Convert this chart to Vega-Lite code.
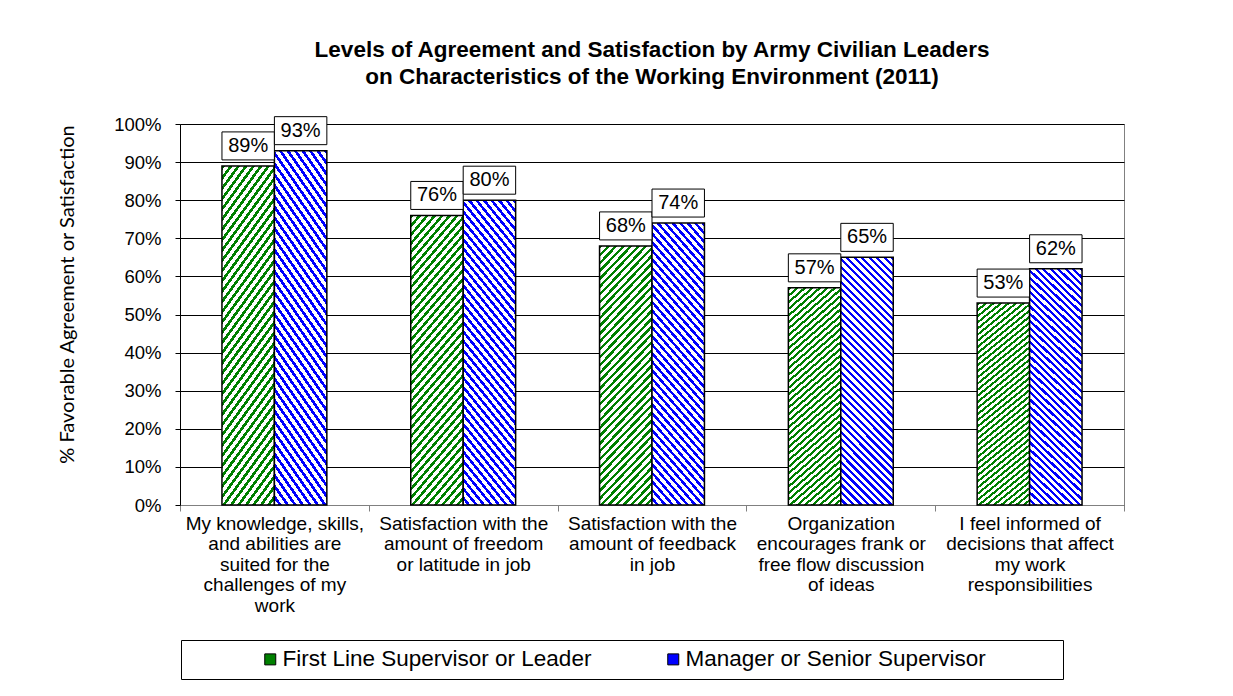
{
  "$schema": "https://vega.github.io/schema/vega-lite/v6.json",
  "width": 944,
  "height": 381,
  "autosize": {"type": "none"},
  "padding": {"left": 180, "top": 124, "right": 109, "bottom": 191},
  "background": "white",
  "config": {"font": "Liberation Sans", "view": {"stroke": "#808080"}},
  "title": {
    "text": ["Levels of Agreement and Satisfaction by Army Civilian Leaders", "on Characteristics of the Working Environment (2011)"],
    "fontSize": 22.5, "fontWeight": "bold", "font": "Liberation Sans", "lineHeight": 27,
    "anchor": "middle", "offset": 27, "color": "#000"
  },
  "data": {"values": [
    {"q": "My knowledge, skills,|and abilities are|suited for the|challenges of my|work", "s": "First Line Supervisor or Leader", "v": 0.89},
    {"q": "My knowledge, skills,|and abilities are|suited for the|challenges of my|work", "s": "Manager or Senior Supervisor", "v": 0.93},
    {"q": "Satisfaction with the|amount of freedom|or latitude in job", "s": "First Line Supervisor or Leader", "v": 0.76},
    {"q": "Satisfaction with the|amount of freedom|or latitude in job", "s": "Manager or Senior Supervisor", "v": 0.80},
    {"q": "Satisfaction with the|amount of feedback|in job", "s": "First Line Supervisor or Leader", "v": 0.68},
    {"q": "Satisfaction with the|amount of feedback|in job", "s": "Manager or Senior Supervisor", "v": 0.74},
    {"q": "Organization|encourages frank or|free flow discussion|of ideas", "s": "First Line Supervisor or Leader", "v": 0.57},
    {"q": "Organization|encourages frank or|free flow discussion|of ideas", "s": "Manager or Senior Supervisor", "v": 0.65},
    {"q": "I feel informed of|decisions that affect|my work|responsibilities", "s": "First Line Supervisor or Leader", "v": 0.53},
    {"q": "I feel informed of|decisions that affect|my work|responsibilities", "s": "Manager or Senior Supervisor", "v": 0.62}
  ]},
  "encoding": {
    "x": {
      "field": "q", "type": "nominal", "sort": null,
      "scale": {"paddingInner": 0, "paddingOuter": 0},
      "axis": {
        "title": null, "labelAngle": 0, "labelExpr": "split(datum.label, '|')",
        "labelFontSize": 19, "labelLineHeight": 20.5, "labelLimit": 300, "labelPadding": 3,
        "labelBaseline": "top", "tickBand": "extent", "tickSize": 6, "tickColor": "#808080",
        "domainColor": "#808080", "labelColor": "#000", "grid": false
      }
    },
    "xOffset": {
      "field": "s", "type": "nominal",
      "scale": {"domain": ["First Line Supervisor or Leader", "Manager or Senior Supervisor"], "paddingInner": 0, "paddingOuter": 0.8}
    },
    "y": {
      "field": "v", "type": "quantitative",
      "scale": {"domain": [0, 1]},
      "axis": {
        "values": [0, 0.1, 0.2, 0.3, 0.4, 0.5, 0.6, 0.7, 0.8, 0.9, 1],
        "format": ".0%", "labelFontSize": 18.5, "labelPadding": 14, "tickSize": 5,
        "tickColor": "#000", "domainColor": "#000", "grid": true, "gridColor": "#000", "gridOpacity": 1,
        "labelColor": "#000",
        "title": "% Favorable Agreement or Satisfaction", "titleFont": "Lato", "titleFontSize": 20,
        "titleFontWeight": "normal", "titleAngle": -90, "titleX": -113, "titleY": 170,
        "titleAlign": "center", "titleBaseline": "middle", "titleColor": "#000"
      }
    }
  },
  "layer": [
    {
      "transform": [{"filter": "datum.s == 'First Line Supervisor or Leader'"}],
      "mark": {
        "type": "bar", "stroke": "#000", "strokeWidth": 1.5,
        "fill": {"gradient": "linear", "x1": 0, "y1": 0, "x2": 0.246, "y2": 1.16, "stops": [
{"offset":0,"color":"green"},{"offset":0.011,"color":"green"},{"offset":0.011,"color":"white"},{"offset":0.025,"color":"white"},
{"offset":0.025,"color":"green"},{"offset":0.036,"color":"green"},{"offset":0.036,"color":"white"},{"offset":0.05,"color":"white"},
{"offset":0.05,"color":"green"},{"offset":0.061,"color":"green"},{"offset":0.061,"color":"white"},{"offset":0.075,"color":"white"},
{"offset":0.075,"color":"green"},{"offset":0.086,"color":"green"},{"offset":0.086,"color":"white"},{"offset":0.1,"color":"white"},
{"offset":0.1,"color":"green"},{"offset":0.111,"color":"green"},{"offset":0.111,"color":"white"},{"offset":0.125,"color":"white"},
{"offset":0.125,"color":"green"},{"offset":0.136,"color":"green"},{"offset":0.136,"color":"white"},{"offset":0.15,"color":"white"},
{"offset":0.15,"color":"green"},{"offset":0.161,"color":"green"},{"offset":0.161,"color":"white"},{"offset":0.175,"color":"white"},
{"offset":0.175,"color":"green"},{"offset":0.186,"color":"green"},{"offset":0.186,"color":"white"},{"offset":0.2,"color":"white"},
{"offset":0.2,"color":"green"},{"offset":0.211,"color":"green"},{"offset":0.211,"color":"white"},{"offset":0.225,"color":"white"},
{"offset":0.225,"color":"green"},{"offset":0.236,"color":"green"},{"offset":0.236,"color":"white"},{"offset":0.25,"color":"white"},
{"offset":0.25,"color":"green"},{"offset":0.261,"color":"green"},{"offset":0.261,"color":"white"},{"offset":0.275,"color":"white"},
{"offset":0.275,"color":"green"},{"offset":0.286,"color":"green"},{"offset":0.286,"color":"white"},{"offset":0.3,"color":"white"},
{"offset":0.3,"color":"green"},{"offset":0.311,"color":"green"},{"offset":0.311,"color":"white"},{"offset":0.325,"color":"white"},
{"offset":0.325,"color":"green"},{"offset":0.336,"color":"green"},{"offset":0.336,"color":"white"},{"offset":0.35,"color":"white"},
{"offset":0.35,"color":"green"},{"offset":0.361,"color":"green"},{"offset":0.361,"color":"white"},{"offset":0.375,"color":"white"},
{"offset":0.375,"color":"green"},{"offset":0.386,"color":"green"},{"offset":0.386,"color":"white"},{"offset":0.4,"color":"white"},
{"offset":0.4,"color":"green"},{"offset":0.411,"color":"green"},{"offset":0.411,"color":"white"},{"offset":0.425,"color":"white"},
{"offset":0.425,"color":"green"},{"offset":0.436,"color":"green"},{"offset":0.436,"color":"white"},{"offset":0.45,"color":"white"},
{"offset":0.45,"color":"green"},{"offset":0.461,"color":"green"},{"offset":0.461,"color":"white"},{"offset":0.475,"color":"white"},
{"offset":0.475,"color":"green"},{"offset":0.486,"color":"green"},{"offset":0.486,"color":"white"},{"offset":0.5,"color":"white"},
{"offset":0.5,"color":"green"},{"offset":0.511,"color":"green"},{"offset":0.511,"color":"white"},{"offset":0.525,"color":"white"},
{"offset":0.525,"color":"green"},{"offset":0.536,"color":"green"},{"offset":0.536,"color":"white"},{"offset":0.55,"color":"white"},
{"offset":0.55,"color":"green"},{"offset":0.561,"color":"green"},{"offset":0.561,"color":"white"},{"offset":0.575,"color":"white"},
{"offset":0.575,"color":"green"},{"offset":0.586,"color":"green"},{"offset":0.586,"color":"white"},{"offset":0.6,"color":"white"},
{"offset":0.6,"color":"green"},{"offset":0.611,"color":"green"},{"offset":0.611,"color":"white"},{"offset":0.625,"color":"white"},
{"offset":0.625,"color":"green"},{"offset":0.636,"color":"green"},{"offset":0.636,"color":"white"},{"offset":0.65,"color":"white"},
{"offset":0.65,"color":"green"},{"offset":0.661,"color":"green"},{"offset":0.661,"color":"white"},{"offset":0.675,"color":"white"},
{"offset":0.675,"color":"green"},{"offset":0.686,"color":"green"},{"offset":0.686,"color":"white"},{"offset":0.7,"color":"white"},
{"offset":0.7,"color":"green"},{"offset":0.711,"color":"green"},{"offset":0.711,"color":"white"},{"offset":0.725,"color":"white"},
{"offset":0.725,"color":"green"},{"offset":0.736,"color":"green"},{"offset":0.736,"color":"white"},{"offset":0.75,"color":"white"},
{"offset":0.75,"color":"green"},{"offset":0.761,"color":"green"},{"offset":0.761,"color":"white"},{"offset":0.775,"color":"white"},
{"offset":0.775,"color":"green"},{"offset":0.786,"color":"green"},{"offset":0.786,"color":"white"},{"offset":0.8,"color":"white"},
{"offset":0.8,"color":"green"},{"offset":0.811,"color":"green"},{"offset":0.811,"color":"white"},{"offset":0.825,"color":"white"},
{"offset":0.825,"color":"green"},{"offset":0.836,"color":"green"},{"offset":0.836,"color":"white"},{"offset":0.85,"color":"white"},
{"offset":0.85,"color":"green"},{"offset":0.861,"color":"green"},{"offset":0.861,"color":"white"},{"offset":0.875,"color":"white"},
{"offset":0.875,"color":"green"},{"offset":0.886,"color":"green"},{"offset":0.886,"color":"white"},{"offset":0.9,"color":"white"},
{"offset":0.9,"color":"green"},{"offset":0.911,"color":"green"},{"offset":0.911,"color":"white"},{"offset":0.925,"color":"white"},
{"offset":0.925,"color":"green"},{"offset":0.936,"color":"green"},{"offset":0.936,"color":"white"},{"offset":0.95,"color":"white"},
{"offset":0.95,"color":"green"},{"offset":0.961,"color":"green"},{"offset":0.961,"color":"white"},{"offset":0.975,"color":"white"},
{"offset":0.975,"color":"green"},{"offset":0.986,"color":"green"},{"offset":0.986,"color":"white"},{"offset":1,"color":"white"}
        ]}
      }
    },
    {
      "transform": [{"filter": "datum.s == 'Manager or Senior Supervisor'"}],
      "mark": {
        "type": "bar", "stroke": "#000", "strokeWidth": 1.5,
        "fill": {"gradient": "linear", "x1": 1, "y1": 0, "x2": 0.754, "y2": 1.16, "stops": [
{"offset":0,"color":"blue"},{"offset":0.011,"color":"blue"},{"offset":0.011,"color":"white"},{"offset":0.025,"color":"white"},
{"offset":0.025,"color":"blue"},{"offset":0.036,"color":"blue"},{"offset":0.036,"color":"white"},{"offset":0.05,"color":"white"},
{"offset":0.05,"color":"blue"},{"offset":0.061,"color":"blue"},{"offset":0.061,"color":"white"},{"offset":0.075,"color":"white"},
{"offset":0.075,"color":"blue"},{"offset":0.086,"color":"blue"},{"offset":0.086,"color":"white"},{"offset":0.1,"color":"white"},
{"offset":0.1,"color":"blue"},{"offset":0.111,"color":"blue"},{"offset":0.111,"color":"white"},{"offset":0.125,"color":"white"},
{"offset":0.125,"color":"blue"},{"offset":0.136,"color":"blue"},{"offset":0.136,"color":"white"},{"offset":0.15,"color":"white"},
{"offset":0.15,"color":"blue"},{"offset":0.161,"color":"blue"},{"offset":0.161,"color":"white"},{"offset":0.175,"color":"white"},
{"offset":0.175,"color":"blue"},{"offset":0.186,"color":"blue"},{"offset":0.186,"color":"white"},{"offset":0.2,"color":"white"},
{"offset":0.2,"color":"blue"},{"offset":0.211,"color":"blue"},{"offset":0.211,"color":"white"},{"offset":0.225,"color":"white"},
{"offset":0.225,"color":"blue"},{"offset":0.236,"color":"blue"},{"offset":0.236,"color":"white"},{"offset":0.25,"color":"white"},
{"offset":0.25,"color":"blue"},{"offset":0.261,"color":"blue"},{"offset":0.261,"color":"white"},{"offset":0.275,"color":"white"},
{"offset":0.275,"color":"blue"},{"offset":0.286,"color":"blue"},{"offset":0.286,"color":"white"},{"offset":0.3,"color":"white"},
{"offset":0.3,"color":"blue"},{"offset":0.311,"color":"blue"},{"offset":0.311,"color":"white"},{"offset":0.325,"color":"white"},
{"offset":0.325,"color":"blue"},{"offset":0.336,"color":"blue"},{"offset":0.336,"color":"white"},{"offset":0.35,"color":"white"},
{"offset":0.35,"color":"blue"},{"offset":0.361,"color":"blue"},{"offset":0.361,"color":"white"},{"offset":0.375,"color":"white"},
{"offset":0.375,"color":"blue"},{"offset":0.386,"color":"blue"},{"offset":0.386,"color":"white"},{"offset":0.4,"color":"white"},
{"offset":0.4,"color":"blue"},{"offset":0.411,"color":"blue"},{"offset":0.411,"color":"white"},{"offset":0.425,"color":"white"},
{"offset":0.425,"color":"blue"},{"offset":0.436,"color":"blue"},{"offset":0.436,"color":"white"},{"offset":0.45,"color":"white"},
{"offset":0.45,"color":"blue"},{"offset":0.461,"color":"blue"},{"offset":0.461,"color":"white"},{"offset":0.475,"color":"white"},
{"offset":0.475,"color":"blue"},{"offset":0.486,"color":"blue"},{"offset":0.486,"color":"white"},{"offset":0.5,"color":"white"},
{"offset":0.5,"color":"blue"},{"offset":0.511,"color":"blue"},{"offset":0.511,"color":"white"},{"offset":0.525,"color":"white"},
{"offset":0.525,"color":"blue"},{"offset":0.536,"color":"blue"},{"offset":0.536,"color":"white"},{"offset":0.55,"color":"white"},
{"offset":0.55,"color":"blue"},{"offset":0.561,"color":"blue"},{"offset":0.561,"color":"white"},{"offset":0.575,"color":"white"},
{"offset":0.575,"color":"blue"},{"offset":0.586,"color":"blue"},{"offset":0.586,"color":"white"},{"offset":0.6,"color":"white"},
{"offset":0.6,"color":"blue"},{"offset":0.611,"color":"blue"},{"offset":0.611,"color":"white"},{"offset":0.625,"color":"white"},
{"offset":0.625,"color":"blue"},{"offset":0.636,"color":"blue"},{"offset":0.636,"color":"white"},{"offset":0.65,"color":"white"},
{"offset":0.65,"color":"blue"},{"offset":0.661,"color":"blue"},{"offset":0.661,"color":"white"},{"offset":0.675,"color":"white"},
{"offset":0.675,"color":"blue"},{"offset":0.686,"color":"blue"},{"offset":0.686,"color":"white"},{"offset":0.7,"color":"white"},
{"offset":0.7,"color":"blue"},{"offset":0.711,"color":"blue"},{"offset":0.711,"color":"white"},{"offset":0.725,"color":"white"},
{"offset":0.725,"color":"blue"},{"offset":0.736,"color":"blue"},{"offset":0.736,"color":"white"},{"offset":0.75,"color":"white"},
{"offset":0.75,"color":"blue"},{"offset":0.761,"color":"blue"},{"offset":0.761,"color":"white"},{"offset":0.775,"color":"white"},
{"offset":0.775,"color":"blue"},{"offset":0.786,"color":"blue"},{"offset":0.786,"color":"white"},{"offset":0.8,"color":"white"},
{"offset":0.8,"color":"blue"},{"offset":0.811,"color":"blue"},{"offset":0.811,"color":"white"},{"offset":0.825,"color":"white"},
{"offset":0.825,"color":"blue"},{"offset":0.836,"color":"blue"},{"offset":0.836,"color":"white"},{"offset":0.85,"color":"white"},
{"offset":0.85,"color":"blue"},{"offset":0.861,"color":"blue"},{"offset":0.861,"color":"white"},{"offset":0.875,"color":"white"},
{"offset":0.875,"color":"blue"},{"offset":0.886,"color":"blue"},{"offset":0.886,"color":"white"},{"offset":0.9,"color":"white"},
{"offset":0.9,"color":"blue"},{"offset":0.911,"color":"blue"},{"offset":0.911,"color":"white"},{"offset":0.925,"color":"white"},
{"offset":0.925,"color":"blue"},{"offset":0.936,"color":"blue"},{"offset":0.936,"color":"white"},{"offset":0.95,"color":"white"},
{"offset":0.95,"color":"blue"},{"offset":0.961,"color":"blue"},{"offset":0.961,"color":"white"},{"offset":0.975,"color":"white"},
{"offset":0.975,"color":"blue"},{"offset":0.986,"color":"blue"},{"offset":0.986,"color":"white"},{"offset":1,"color":"white"}
        ]}
      }
    },
    {
      "mark": {"type": "bar", "fill": "white", "stroke": "#000", "strokeWidth": 1, "yOffset": -34, "y2Offset": -6},
      "encoding": {"y2": {"field": "v"}}
    },
    {
      "mark": {"type": "text", "dy": -20, "fontSize": 20, "baseline": "middle", "color": "#000"},
      "encoding": {"text": {"field": "v", "format": ".0%"}}
    },
    {
      "mark": {"type": "square", "opacity": 0},
      "encoding": {
        "color": {
          "field": "s", "type": "nominal",
          "scale": {"domain": ["First Line Supervisor or Leader", "Manager or Senior Supervisor"], "range": ["#008000", "#0000ff"]},
          "legend": {
            "title": "\u200b\u00a0\u00a0\u00a0\u00a0\u00a0\u00a0\u00a0\u00a0\u00a0\u00a0\u00a0\u00a0\u00a0\u00a0\u00a0\u00a0\u00a0\u00a0\u00a0\u00a0\u00a0\u00a0\u00a0\u00a0\u00a0\u200b",
            "titleOrient": "left", "titleFontSize": 10, "titlePadding": 0,
            "orient": "none", "legendX": 1, "legendY": 516, "direction": "horizontal",
            "strokeColor": "#000", "padding": 8, "fillColor": "white",
            "symbolType": "square", "symbolSize": 121, "symbolStrokeColor": "#000", "symbolStrokeWidth": 1,
            "symbolOpacity": 1, "labelFontSize": 22.5, "labelOffset": 1, "labelLimit": 800, "columnPadding": 70,
            "labelColor": "#000",
            "labelExpr": "datum.value == 'Manager or Senior Supervisor' ? datum.label + '\u00a0\u00a0\u00a0\u00a0\u00a0\u00a0\u00a0\u00a0\u00a0\u00a0\u00a0\u200b' : datum.label"
          }
        }
      }
    }
  ]
}
